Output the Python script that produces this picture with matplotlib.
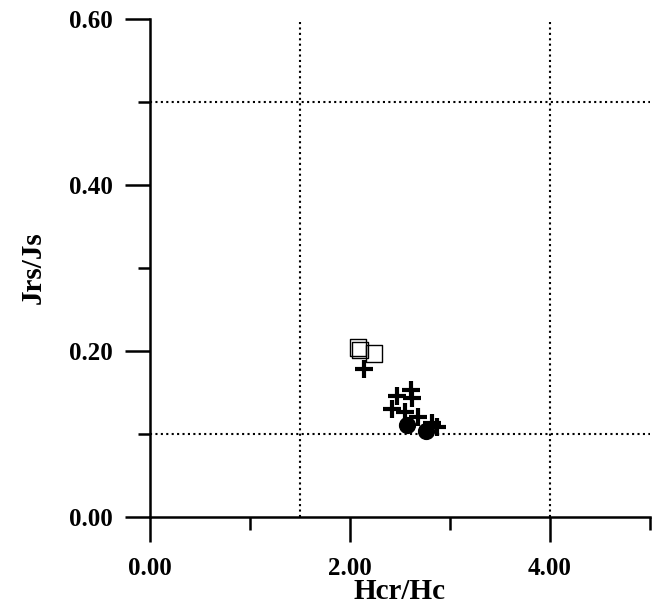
import matplotlib.pyplot as plt
import numpy as np

# data
sq_x = [2.08, 2.10, 2.24]
sq_y = [0.204, 0.201, 0.197]

cross_x = [2.14, 2.47, 2.61, 2.62, 2.42, 2.55, 2.68, 2.82, 2.87]
cross_y = [0.178, 0.146, 0.153, 0.143, 0.130, 0.127, 0.121, 0.113, 0.109]

dot_x = [2.57, 2.76]
dot_y = [0.111, 0.104]

x_ticks = [0, 2, 4]
x_labels = ['0.00', '2.00', '4.00']
y_ticks = [0, 0.2, 0.4, 0.6]
y_labels = ['0.00', '0.20', '0.40', '0.60']
vlines = [1.5, 4.0]
hlines = [0.1, 0.5]


def main():
    plt.rcParams['font.family'] = ['Liberation Serif', 'DejaVu Serif']
    plt.rcParams['font.weight'] = 'bold'

    fig = plt.figure(figsize=(6.52, 6.08), dpi=100)
    ax = fig.add_axes([150 / 652, 91 / 608, 500 / 652, 498 / 608])

    for v in vlines:
        ax.axvline(v, color='black', linestyle=(0, (1, 1.6)), linewidth=1.5, zorder=1)
    for h in hlines:
        ax.axhline(h, color='black', linestyle=(0, (1, 1.6)), linewidth=1.5, zorder=1)

    ax.scatter(sq_x, sq_y, marker='s', s=140, facecolors='none', edgecolors='black',
               linewidths=1.0, zorder=3)
    ax.scatter(cross_x, cross_y, marker='+', s=160, color='black', linewidths=3.0, zorder=3)
    ax.scatter(dot_x, dot_y, marker='o', s=130, color='black', zorder=3)

    ax.set_xlim(0, 5)
    ax.set_ylim(0, 0.6)
    ax.spines['top'].set_visible(False)
    ax.spines['right'].set_visible(False)
    ax.spines['left'].set_linewidth(1.8)
    ax.spines['bottom'].set_linewidth(1.8)

    ax.set_xticks(x_ticks)
    ax.set_xticklabels(x_labels)
    ax.set_xticks([1, 3, 5], minor=True)
    ax.set_yticks(y_ticks)
    ax.set_yticklabels(y_labels)
    ax.set_yticks([0.1, 0.3, 0.5], minor=True)

    ax.tick_params(axis='both', which='major', direction='out', length=18, width=1.8,
                   labelsize=18)
    ax.tick_params(axis='both', which='minor', direction='out', length=9, width=1.8)
    ax.tick_params(axis='x', which='major', pad=11)
    ax.tick_params(axis='y', which='major', pad=9)

    ax.set_xlabel('Hcr/Hc', fontsize=21, fontweight='bold', labelpad=-1.5)
    ax.set_ylabel('Jrs/Js', fontsize=21, fontweight='bold', labelpad=16)

    fig.savefig('out.png', dpi=100)


if __name__ == "__main__":
    main()
